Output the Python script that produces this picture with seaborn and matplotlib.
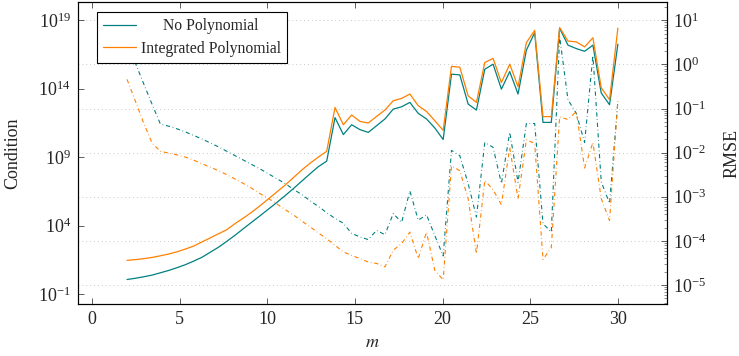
import numpy as np
import pandas as pd
import matplotlib
matplotlib.use("Agg")
import matplotlib.pyplot as plt
import seaborn as sns
from matplotlib.ticker import FixedLocator, LogLocator, LogFormatterSciNotation, NullFormatter, NullLocator
from matplotlib.lines import Line2D

# ---------------- data ----------------
m = [2.000, 2.475, 2.949, 3.424, 3.898, 4.373, 4.847, 5.322, 5.797, 6.271,
     6.746, 7.220, 7.695, 8.169, 8.644, 9.119, 9.593, 10.068, 10.542, 11.017,
     11.492, 11.966, 12.441, 12.915, 13.390, 13.864, 14.339, 14.814, 15.288, 15.763,
     16.237, 16.712, 17.186, 17.661, 18.136, 18.610, 19.085, 19.559, 20.034, 20.508,
     20.983, 21.458, 21.932, 22.407, 22.881, 23.356, 23.831, 24.305, 24.780, 25.254,
     25.729, 26.203, 26.678, 27.153, 27.627, 28.102, 28.576, 29.051, 29.525, 30.000]

methods = ["No Polynomial", "Integrated Polynomial"]

# log10 of condition number
cond_no_poly_log10 = [
    0.06, 0.15, 0.26, 0.38, 0.55, 0.72, 0.92, 1.14, 1.40, 1.68,
    2.05, 2.42, 2.85, 3.30, 3.78, 4.25, 4.72, 5.20, 5.68, 6.18,
    6.70, 7.24, 7.78, 8.30, 8.70, 11.88, 10.64, 11.36, 11.00, 10.80,
    11.29, 11.78, 12.50, 12.67, 12.99, 12.19, 11.78, 11.12, 10.28, 15.05,
    15.00, 12.87, 12.43, 15.41, 15.78, 13.96, 15.24, 13.60, 16.80, 18.08,
    11.53, 11.53, 18.40, 17.17, 16.92, 16.72, 17.17, 13.68, 12.82, 17.24]
cond_integ_poly_log10 = [
    1.46, 1.51, 1.58, 1.67, 1.79, 1.92, 2.08, 2.28, 2.50, 2.80,
    3.10, 3.40, 3.70, 4.15, 4.55, 4.98, 5.45, 5.95, 6.45, 6.95,
    7.50, 8.05, 8.55, 9.00, 9.42, 12.62, 11.36, 12.07, 11.60, 11.49,
    11.97, 12.43, 13.11, 13.28, 13.60, 12.75, 12.33, 11.65, 10.95, 15.62,
    15.56, 13.47, 12.99, 15.90, 16.21, 14.44, 15.78, 14.13, 17.35, 18.25,
    11.95, 11.95, 18.46, 17.47, 17.41, 17.04, 17.71, 14.06, 13.19, 18.41]

# log10 of RMSE
rmse_no_poly_log10 = [
    0.50, 0.03, -0.44, -0.90, -1.35, -1.40, -1.46, -1.53, -1.61, -1.69,
    -1.78, -1.87, -1.97, -2.07, -2.17, -2.27, -2.37, -2.48, -2.59, -2.70,
    -2.83, -2.95, -3.09, -3.22, -3.36, -3.49, -3.60, -3.83, -3.91, -3.97,
    -3.76, -3.86, -3.38, -3.58, -2.87, -3.53, -3.41, -3.88, -4.34, -1.95,
    -2.07, -2.70, -3.46, -1.77, -1.88, -2.70, -1.54, -2.67, -1.34, -1.34,
    -3.61, -3.80, 0.63, -0.80, -1.11, -1.77, 0.20, -2.66, -3.15, -0.84]
rmse_integ_poly_log10 = [
    -0.34, -0.83, -1.33, -1.78, -1.97, -2.01, -2.05, -2.10, -2.17, -2.25,
    -2.33, -2.41, -2.50, -2.60, -2.70, -2.81, -2.93, -3.04, -3.16, -3.29,
    -3.41, -3.55, -3.68, -3.82, -3.95, -4.10, -4.25, -4.33, -4.40, -4.48,
    -4.51, -4.59, -4.21, -4.06, -3.80, -4.40, -3.80, -4.67, -4.88, -2.30,
    -2.41, -3.04, -4.29, -2.63, -2.84, -3.18, -1.88, -3.05, -1.71, -1.79,
    -4.42, -4.15, -1.19, -1.25, -1.07, -2.35, -1.77, -3.04, -3.54, -0.82]

xticks = [0, 5, 10, 15, 20, 25, 30]
cond_ticks = [1e-1, 1e4, 1e9, 1e14, 1e19]
rmse_ticks = [1e-5, 1e-4, 1e-3, 1e-2, 1e-1, 1e0, 1e1]

# ---------------- frames ----------------
df_cond = pd.DataFrame({
    "m": m * 2,
    "Condition": np.power(10.0, cond_no_poly_log10 + cond_integ_poly_log10),
    "method": [methods[0]] * len(m) + [methods[1]] * len(m),
})
df_rmse = pd.DataFrame({
    "m": m * 2,
    "RMSE": np.power(10.0, rmse_no_poly_log10 + rmse_integ_poly_log10),
    "method": [methods[0]] * len(m) + [methods[1]] * len(m),
})

# ---------------- style ----------------
sns.set_theme(style="white")
plt.rcParams['font.family'] = ['Liberation Serif', 'DejaVu Serif']
plt.rcParams['mathtext.fontset'] = 'stix'
plt.rcParams['font.size'] = 13
plt.rcParams['axes.edgecolor'] = 'black'
plt.rcParams['axes.linewidth'] = 0.8

palette = {methods[0]: '#008080', methods[1]: '#ff8000'}
FS = 13
LFS = 11.3

fig = plt.figure(figsize=(7.39, 3.56), dpi=100)
ax1 = fig.add_axes([0.1055, 0.146, 0.797, 0.848])
ax2 = ax1.twinx()

sns.lineplot(data=df_cond, x="m", y="Condition", hue="method", palette=palette,
             ax=ax1, estimator=None, sort=False, legend=False, linewidth=0.9)
sns.lineplot(data=df_rmse, x="m", y="RMSE", hue="method", palette=palette,
             ax=ax2, estimator=None, sort=False, legend=False, linewidth=0.8,
             linestyle=(0, (3.8, 2.5, 0.6, 2.5)))

ax1.set_yscale('log')
ax2.set_yscale('log')

ax1.set_xlim(-0.8, 32.8)
ax1.set_xticks(xticks)
ax1.set_xticklabels([str(t) for t in xticks], fontsize=FS)
ax1.set_ylim(10 ** -1.73, 10 ** 20.31)
ax1.yaxis.set_major_locator(FixedLocator(cond_ticks))
ax1.yaxis.set_minor_locator(NullLocator())
ax1.yaxis.set_major_formatter(LogFormatterSciNotation())
ax1.tick_params(axis='both', which='major', direction='in', length=4.3, width=0.6,
                color='#444444', labelsize=FS)
ax1.tick_params(axis='x', top=True, bottom=True, pad=5)
ax1.tick_params(axis='y', left=True, right=False, pad=5)

ax2.set_ylim(10 ** -5.43, 10 ** 1.41)
ax2.yaxis.set_major_locator(FixedLocator(rmse_ticks))
ax2.yaxis.set_major_formatter(LogFormatterSciNotation())
ax2.yaxis.set_minor_locator(LogLocator(base=10, subs=np.arange(2, 10), numticks=20))
ax2.yaxis.set_minor_formatter(NullFormatter())
ax2.tick_params(axis='y', which='major', direction='in', length=4.3, width=0.6,
                color='#444444', labelsize=FS, pad=4, right=True, left=False)
ax2.tick_params(axis='y', which='minor', direction='in', length=2.2, width=0.5,
                color='#666666', right=True, left=False)
ax2.grid(True, which='major', axis='y', color='#c8c8c8', linestyle=(0, (1, 3)), linewidth=0.7)
ax2.set_axisbelow(True)
ax2.set_xlabel("")

for ax in (ax1, ax2):
    for s in ax.spines.values():
        s.set_color('black')
        s.set_linewidth(0.8)

ax1.set_xlabel("$m$", fontsize=FS)
ax1.set_ylabel("Condition", fontsize=FS)
ax2.set_ylabel("RMSE", fontsize=FS)
ax1.xaxis.set_label_coords(0.5, -0.1)
ax1.yaxis.set_label_coords(-0.096, 0.5)
ax2.yaxis.set_label_coords(1.096, 0.5)

handles = [Line2D([], [], color=palette[k], lw=0.9) for k in methods]
leg = ax1.legend(handles, methods, loc='upper left', bbox_to_anchor=(0.032, 0.968),
                 borderaxespad=0, frameon=True, fancybox=False, edgecolor='black',
                 framealpha=1, fontsize=LFS, handlelength=2.1, handletextpad=0.3,
                 labelspacing=0.42, borderpad=0.4)
leg.get_frame().set_linewidth(0.8)
leg.set_zorder(10)
ax1.set_zorder(ax2.get_zorder() + 1)
ax1.patch.set_visible(False)

# center the shorter legend label in its column
try:
    from matplotlib.offsetbox import DrawingArea, HPacker
    fig.canvas.draw()
    renderer = fig.canvas.get_renderer()
    widths = [t.get_window_extent(renderer).width for t in leg.texts]
    wmax = max(widths)
    for col in leg._legend_handle_box.get_children():
        for row in col.get_children():
            kids = row.get_children()
            tb = kids[1]
            t = tb._text
            idx = [id(x) for x in leg.texts].index(id(t))
            pad_pt = (wmax - widths[idx]) / 2 * 72 / fig.dpi
            if pad_pt > 0.5:
                row._children[1] = HPacker(children=[DrawingArea(pad_pt, 0.1), tb],
                                           pad=0, sep=0, align='baseline')
except Exception:
    pass

fig.savefig("out.png", dpi=100)
